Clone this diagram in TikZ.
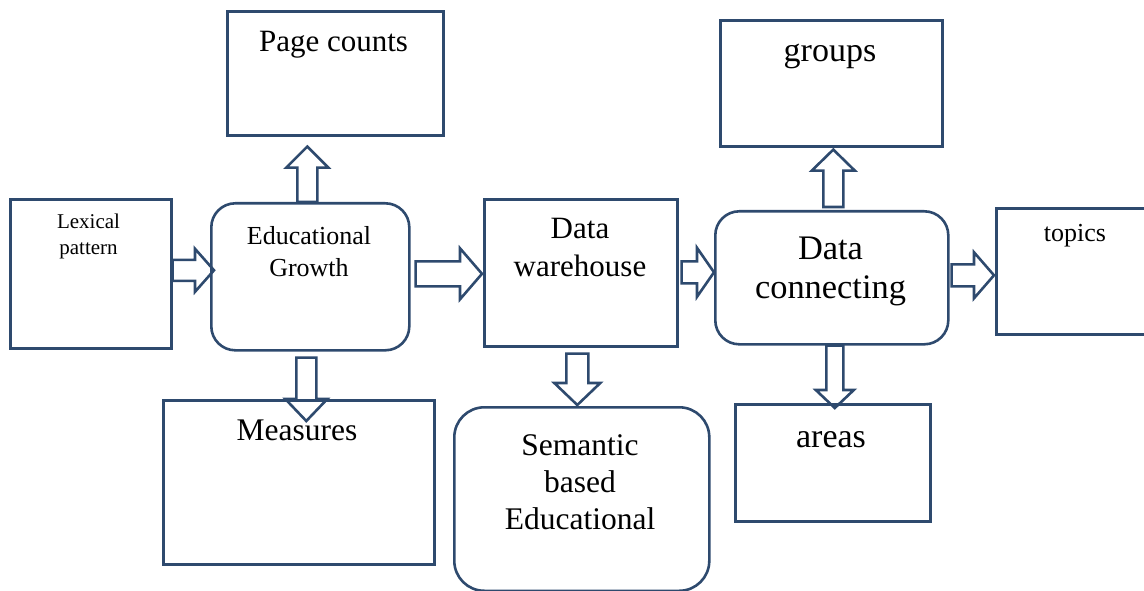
\documentclass[tikz,border=0pt]{standalone}
\usepackage{fontspec}
\setmainfont{Liberation Serif}
\usetikzlibrary{calc}
\definecolor{frame}{RGB}{46,74,110}

\tikzset{
  box/.style={draw=frame, line width=2.6pt, inner sep=0pt, anchor=north west},
  rbox/.style={box, rounded corners=#1},
  blk/.style={draw=frame, line width=2.6pt, line join=miter},
  % anchor=base sits on the baseline of the last line
  lbl/.style={anchor=base, inner sep=0pt, text=black, align=center},
}

% Outlined block arrow from #1 to #2:
% #3 shaft half-width, #4 head half-width, #5 head length
\newcommand\blockarrow[5]{%
  \coordinate (ba-h) at ($(#2)!#5!(#1)$);
  \draw[blk] ($(#1)!#3!90:(#2)$) -- ($(ba-h)!#3!90:(#2)$)
    -- ($(ba-h)!#4!90:(#2)$) -- (#2) -- ($(ba-h)!#4!-90:(#2)$)
    -- ($(ba-h)!#3!-90:(#2)$) -- ($(#1)!#3!-90:(#2)$) -- cycle;
}

\begin{document}
\begin{tikzpicture}[x=1pt, y=-1pt]
\clip (0,0) rectangle (1144,591);

% boxes
\node[box, minimum width=161pt, minimum height=149pt] (lex) at (9,198) {};
\node[rbox=24pt, minimum width=198pt, minimum height=147pt] (edu) at (210,202) {};
\node[box, minimum width=216pt, minimum height=124pt] (page) at (226,10) {};
\node[box, minimum width=271pt, minimum height=164pt] (meas) at (162,399) {};
\node[box, minimum width=193pt, minimum height=147pt] (dw) at (483,198) {};
\node[rbox=30pt, minimum width=255pt, minimum height=183.5pt] (sem) at (453,406) {};
\node[rbox=24pt, minimum width=233pt, minimum height=133pt] (dc) at (714,210) {};
\node[box, minimum width=222pt, minimum height=126pt] (groups) at (719,19) {};
\node[box, minimum width=180pt, minimum height=126pt] (topics) at (995,207) {};
\node[box, minimum width=195pt, minimum height=117pt] (areas) at (734,403) {};

% labels
\node[lbl, font=\fontsize{21}{25}\selectfont] (tlex) at (88.5,254) {Lexical\\pattern};
\node[lbl, font=\fontsize{26}{32}\selectfont] (tedu) at (309,276) {Educational\\Growth};
\node[lbl, font=\fontsize{31}{37}\selectfont] (tpage) at (333.5,52) {Page counts};
\node[lbl, font=\fontsize{31.5}{37}\selectfont] (tmeas) at (297,440) {Measures};
\node[lbl, font=\fontsize{31}{38}\selectfont] (tdw) at (580,276) {Data\\warehouse};
\node[lbl, font=\fontsize{31.5}{37}\selectfont] (tsem) at (580,529) {Semantic\\based\\Educational};
\node[lbl, font=\fontsize{34.4}{39}\selectfont] (tdc) at (830.5,298) {Data\\connecting};
\node[lbl, font=\fontsize{34}{40}\selectfont] (tgroups) at (830,62) {groups};
\node[lbl, font=\fontsize{26}{30}\selectfont] (ttopics) at (1075,241) {topics};
\node[lbl, font=\fontsize{34}{40}\selectfont] (tareas) at (831,447) {areas};

% arrow end points, taken from the boxes they join
\coordinate (a1) at ($(lex.east)+(0,-3.5)$);
\coordinate (b1) at ($(edu.west |- a1)+(4,0)$);
\coordinate (a2) at ($(edu.north)+(-3,0)$);
\coordinate (b2) at ($(page.south -| a2)+(0,10)$);
\coordinate (a3) at ($(edu.south)+(-4,6)$);
\coordinate (b3) at ($(meas.north -| a3)+(0,22)$);
\coordinate (a4) at ($(edu.east)+(5,-3)$);
\coordinate (b4) at ($(dw.west |- a4)+(-1,0)$);
\coordinate (a5) at ($(dw.east)+(3,-0.5)$);
\coordinate (b5) at (dc.west |- a5);
\coordinate (a6) at ($(dw.south)+(-3.5,6)$);
\coordinate (b6) at ($(sem.north -| a6)+(0,-1)$);
\coordinate (a7) at ($(dc.north)+(1.5,-3)$);
\coordinate (b7) at ($(groups.south -| a7)+(0,2)$);
\coordinate (a8) at ($(dc.east)+(2,-2.5)$);
\coordinate (b8) at ($(topics.west |- a8)+(-1,0)$);
\coordinate (a9) at ($(dc.south)+(3,0)$);
\coordinate (b9) at ($(areas.north -| a9)+(0,5)$);

% block arrows
\blockarrow{a1}{b1}{10.5pt}{21.5pt}{19pt}
\blockarrow{a2}{b2}{10pt}{21pt}{21pt}
\blockarrow{a3}{b3}{10pt}{21pt}{22pt}
\blockarrow{a4}{b4}{12.5pt}{25.5pt}{22pt}
\blockarrow{a5}{b5}{11pt}{24.5pt}{17pt}
\blockarrow{a6}{b6}{11pt}{23pt}{22pt}
\blockarrow{a7}{b7}{10pt}{21.5pt}{21pt}
\blockarrow{a8}{b8}{11pt}{23pt}{20pt}
\blockarrow{a9}{b9}{8.5pt}{19pt}{18pt}
\end{tikzpicture}
\end{document}
